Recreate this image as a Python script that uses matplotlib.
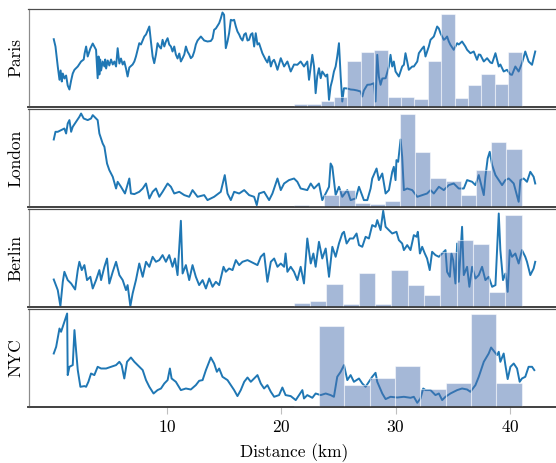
import numpy as np
import matplotlib
matplotlib.use("Agg")
from matplotlib import pyplot as plt

plt.rcParams['font.family'] = 'serif'
plt.rcParams['font.serif'] = ['cmr10']
plt.rcParams['mathtext.fontset'] = 'cm'
plt.rcParams['axes.formatter.use_mathtext'] = True

cities = ['Paris', 'London', 'Berlin', 'NYC']

# line series: distance (km) and relative value
paris_km = [0.10, 0.25, 0.45, 0.60, 0.70, 0.80, 0.89, 1.03, 1.18, 1.32, 1.47, 1.62, 1.76, 1.91, 2.20, 2.49, 2.72,
            2.80, 2.93, 3.07, 3.30, 3.51, 3.65, 3.80, 3.94, 4.02, 4.09, 4.16, 4.24, 4.38, 4.53, 4.60, 4.68, 4.82,
            4.96, 5.11, 5.26, 5.40, 5.55, 5.69, 5.84, 5.98, 6.13, 6.27, 6.42, 6.56, 6.71, 7.00, 7.15, 7.29, 7.58,
            7.73, 8.02, 8.17, 8.31, 8.46, 8.60, 8.75, 8.89, 9.04, 9.18, 9.33, 9.48, 9.62, 9.77, 9.91, 10.06, 10.20,
            10.35, 10.49, 10.64, 10.78, 10.93, 11.08, 11.22, 11.37, 11.52, 11.66, 11.80, 11.95, 12.09, 12.24,
            12.39, 12.53, 12.68, 12.82, 12.97, 13.12, 13.26, 13.55, 13.84, 13.99, 14.13, 14.28, 14.57, 14.71,
            14.86, 15.00, 15.15, 15.30, 15.44, 15.59, 15.74, 15.88, 16.03, 16.17, 16.32, 16.46, 16.61, 16.76,
            16.90, 17.05, 17.19, 17.34, 17.48, 17.63, 17.77, 17.92, 18.06, 18.21, 18.35, 18.50, 18.64, 18.79,
            18.94, 19.09, 19.23, 19.37, 19.50, 19.67, 19.96, 20.25, 20.54, 20.83, 21.12, 21.41, 21.70, 21.99,
            22.28, 22.43, 22.72, 22.87, 23.01, 23.15, 23.30, 23.45, 23.59, 23.89, 24.03, 24.18, 24.32, 24.47,
            24.61, 24.76, 24.90, 25.05, 25.20, 25.34, 25.49, 25.78, 26.07, 26.36, 26.65, 26.94, 27.09, 27.23,
            27.53, 27.82, 28.11, 28.25, 28.40, 28.54, 28.69, 28.84, 29.13, 29.42, 29.56, 29.71, 29.85, 30.00,
            30.29, 30.58, 30.73, 30.87, 31.02, 31.16, 31.46, 31.60, 31.90, 32.04, 32.33, 32.48, 32.62, 32.76,
            32.91, 33.06, 33.35, 33.64, 33.79, 33.93, 34.08, 34.22, 34.37, 34.51, 34.66, 34.80, 35.09, 35.24,
            35.39, 35.53, 35.82, 36.11, 36.26, 36.55, 36.84, 37.13, 37.28, 37.42, 37.72, 38.01, 38.30, 38.45,
            38.74, 39.03, 39.17, 39.46, 39.75, 40.05, 40.19, 40.48, 40.77, 41.06, 41.35, 41.64, 41.94, 42.22]
paris_val = [67.3, 60, 40, 26.7, 36, 25, 33, 28, 31, 21, 17, 26, 33, 36.7, 40, 45, 47,
             53, 60, 50, 58, 63, 60, 56.7, 28.3, 50, 32, 47, 36, 45, 40, 47, 38, 46,
             41, 47, 42, 45, 40, 58.3, 43, 48, 42, 45, 38, 30, 39, 42, 45, 50, 63.3,
             62, 70, 72, 76, 80, 65, 50, 43.3, 52, 63.3, 60, 58, 66.7, 60, 65, 68.3, 62,
             60, 55, 60, 52, 48, 53, 45, 48.3, 52, 60, 55, 52, 48.3, 50,
             55, 62, 66, 68, 70, 68, 66, 65, 65.5, 68, 76.7, 78, 83.3, 88,
             94, 91.7, 58.3, 65, 73.3, 86.7, 86, 86.7, 80, 75, 72, 68.3, 66, 72,
             73.3, 66, 66.7, 72, 73.3, 60, 73.3, 62, 63.3, 58, 53.3, 50, 46.7, 44,
             50, 40, 45, 46.7, 43, 36.7, 48.3, 40, 45, 35, 42, 41.7, 45, 40,
             45, 26.7, 51.7, 40, 13.3, 30, 38.3, 28.3, 35, 30, 32, 6.7, 20, 26.7,
             35, 40, 50, 63.3, 30, 5, 18.3, 18, 17, 16.7, 16, 15, 10, 16,
             21.7, 22, 23.3, 5, 51.7, 30, 21.7, 28, 28.3, 40, 51.7, 40, 45, 35,
             30, 40, 41.7, 53.3, 45, 36.7, 40, 40, 45, 53.3, 58, 60, 50, 55,
             60, 66.7, 70, 80, 78, 73.3, 70, 66.7, 68, 70, 65, 61.7, 56.7, 60,
             63.3, 62, 65, 60, 56.7, 53.3, 55, 46.7, 52, 51.7, 45, 48.3, 44, 43.3,
             53.3, 40, 42, 35, 36.7, 32, 31.7, 40, 35, 43.3, 55, 45, 41.7, 55]

london_km = [0.10, 0.25, 0.31, 0.45, 0.74, 1.03, 1.18, 1.32, 1.47, 1.62, 1.76, 2.05, 2.34, 2.49, 2.72, 3.07,
             3.36, 3.51, 3.80, 3.94, 4.09, 4.38, 4.53, 4.76, 4.96, 5.26, 5.55, 5.69, 5.98, 6.33, 6.71, 6.85,
             7.15, 7.58, 7.88, 8.17, 8.46, 8.75, 9.04, 9.33, 9.62, 10.06, 10.35, 10.64, 11.08, 11.52, 11.95,
             12.24, 12.68, 13.26, 13.55, 14.13, 14.71, 15.06, 15.30, 15.59, 15.88, 16.32, 16.76, 17.19, 17.63,
             17.86, 18.06, 18.50, 18.94, 19.23, 19.67, 19.96, 20.25, 20.68, 21.12, 21.41, 21.70, 22.28, 22.58,
             22.87, 23.30, 23.59, 23.89, 24.18, 24.32, 24.47, 24.76, 25.05, 25.34, 25.78, 26.07, 26.51, 26.80,
             27.23, 27.53, 27.82, 27.96, 28.34, 28.54, 28.84, 29.13, 29.42, 29.71, 29.85, 30.00, 30.08, 30.23,
             30.44, 30.58, 30.73, 31.02, 31.46, 31.90, 32.33, 32.76, 33.06, 33.35, 33.79, 34.22, 34.66, 35.09,
             35.53, 35.97, 36.26, 36.70, 36.99, 37.28, 37.72, 37.86, 38.06, 38.24, 38.45, 38.74, 39.03, 39.32,
             39.61, 39.90, 40.05, 40.34, 40.77, 40.92, 41.21, 41.50, 41.79, 42.08, 42.22]
london_val = [67.3, 75, 75, 75, 76.7, 78.3, 73.3, 83.3, 86.7, 75, 80, 85, 90, 93.3, 88.3, 86.7,
              88.3, 91.7, 88.3, 86.7, 73.3, 63.3, 60, 43.3, 36.7, 30, 18.3, 25, 20, 13.3, 28.3, 13.3,
              12.7, 15, 18.3, 23.3, 8.3, 15, 18.3, 10, 15, 23.3, 20, 13.3, 15, 11.7, 10,
              16.7, 10, 11.7, 6.7, 10, 15, 31.7, 13.3, 6.7, 15, 13.3, 16.7, 11.7, 10,
              1.7, 13.3, 15, 6.7, 13.3, 28.3, 16.7, 23.3, 26.7, 28.3, 25, 18.3, 16.7, 23.3,
              18.3, 23.3, 6.7, 13.3, 20, 43.3, 40, 11.7, 20, 10, 16.7, 6.7, 8.3, 20,
              6.7, 6.7, 18.3, 28.3, 38.3, 26.7, 33.3, 13.3, 16.7, 35, 40, 26.7, 46.7, 45,
              67.3, 50, 16.7, 18.3, 16.7, 10, 11.7, 13.3, 16.7, 13.3, 20, 16.7, 21.7, 23.3,
              18.3, 18.3, 26.7, 25, 21.7, 31.7, 11.7, 30, 48.3, 55, 41.7, 31.7, 26.7, 21.7,
              26.7, 28.3, 26.7, 23.3, 5, 26.7, 28.3, 25, 35, 30, 23.3]

berlin_km = [0.10, 0.45, 0.68, 0.89, 1.03, 1.32, 1.62, 1.97, 2.20, 2.34, 2.55, 2.78, 3.01, 3.30, 3.51, 3.80,
             4.09, 4.24, 4.53, 4.76, 4.96, 5.26, 5.55, 5.84, 6.13, 6.42, 6.56, 6.80, 7.00, 7.29, 7.58, 7.88,
             8.17, 8.46, 8.75, 9.04, 9.33, 9.62, 9.91, 10.20, 10.49, 10.70, 10.93, 11.22, 11.37, 11.66, 11.95,
             12.24, 12.53, 12.82, 13.12, 13.41, 13.70, 13.99, 14.28, 14.57, 14.95, 15.15, 15.44, 15.74, 16.03,
             16.32, 16.61, 17.05, 17.34, 17.63, 17.92, 18.21, 18.50, 18.79, 19.09, 19.38, 19.67, 19.96, 20.25,
             20.38, 20.54, 20.83, 21.12, 21.41, 21.70, 21.99, 22.28, 22.58, 22.81, 23.01, 23.30, 23.59, 23.89,
             24.18, 24.47, 24.76, 25.05, 25.34, 25.49, 25.72, 26.01, 26.30, 26.59, 26.80, 27.09, 27.38, 27.67,
             27.96, 28.25, 28.40, 28.69, 28.92, 29.13, 29.42, 29.71, 30.08, 30.29, 30.58, 30.73, 31.02, 31.31,
             31.60, 31.84, 31.95, 32.13, 32.33, 32.56, 32.76, 32.99, 33.20, 33.49, 33.79, 34.08, 34.37, 34.51,
             34.75, 34.89, 35.04, 35.24, 35.39, 35.53, 35.82, 35.97, 36.26, 36.46, 36.70, 36.99, 37.28, 37.57,
             37.86, 38.15, 38.45, 38.74, 39.03, 39.17, 39.40, 39.61, 39.81, 39.99, 40.19, 40.48, 40.77, 41.06,
             41.35, 41.50, 41.79, 41.94, 42.08, 42.22]
berlin_val = [27.3, 16.7, 0.7, 25, 35, 26.7, 23.3, 17.3, 36.7, 45, 36.7, 41.7, 26.7, 30, 18.3, 26.7,
              36.7, 26.7, 40, 48.3, 23.3, 35, 45, 31.7, 26.7, 16.7, 21.7, 0.7, 13.3, 26.7, 43.3, 30,
              45, 40, 50, 45, 46.7, 51.7, 45, 51.7, 40, 48.3, 31.7, 86, 33.3, 41.7, 26.7,
              41.7, 30, 21.7, 26.7, 18.3, 28.3, 20, 25, 21.7, 40, 35, 38.3, 36.7, 46.7,
              41.7, 45, 46.7, 45, 43.3, 41.7, 50, 53.3, 25, 45, 48.3, 40, 43.3, 40,
              53.3, 35, 40, 35, 26.7, 40, 23.3, 68.3, 43.3, 53.3, 40, 65, 48.3, 58.3,
              30, 60, 50, 63.3, 73.3, 75, 63.3, 68.3, 68.3, 73.3, 61.7, 60, 70, 68.3,
              81.7, 80, 86.7, 76.7, 96, 80, 76.7, 73.3, 75, 66.7, 63.3, 56.7, 61.7, 56.7,
              71.7, 70, 75, 53.3, 60, 53.3, 48.3, 36.7, 55, 51.7, 50, 53.3, 56.7, 35,
              30, 53.3, 46.7, 23.3, 63.3, 25, 80, 31.7, 40, 20, 40, 28.3, 31.7, 40,
              26.7, 30, 20, 21.7, 93.3, 56.7, 26.7, 33.3, 15, 56.7, 50, 53.3, 43.3, 56.7,
              50, 45, 31.7, 35, 38.3, 45]

nyc_km = [0.10, 0.31, 0.60, 0.74, 1.03, 1.27, 1.32, 1.47, 1.76, 1.91, 2.05, 2.20, 2.43, 2.78, 2.93, 3.13,
          3.36, 3.65, 3.94, 4.24, 4.68, 5.11, 5.55, 5.84, 6.04, 6.27, 6.51, 6.85, 7.15, 7.44, 7.88, 8.17,
          8.46, 8.83, 9.18, 9.48, 9.77, 10.06, 10.26, 10.41, 10.78, 11.22, 11.66, 12.09, 12.53, 12.82, 13.12,
          13.41, 13.84, 14.13, 14.37, 14.57, 14.86, 15.30, 15.59, 15.88, 16.17, 16.46, 16.76, 17.05, 17.34,
          17.63, 17.92, 18.21, 18.50, 18.79, 19.09, 19.38, 19.81, 20.10, 20.38, 20.83, 21.27, 21.56, 21.85,
          21.99, 22.28, 22.72, 23.01, 23.45, 23.89, 24.32, 24.61, 24.90, 25.20, 25.49, 25.78, 26.07, 26.36,
          26.80, 27.09, 27.38, 27.67, 27.96, 28.25, 28.40, 28.84, 29.13, 29.56, 30.14, 30.73, 31.31, 31.60,
          31.90, 32.18, 32.42, 32.62, 33.06, 33.49, 33.79, 34.08, 34.37, 34.80, 35.39, 35.82, 36.26, 36.55,
          36.99, 37.28, 37.72, 38.15, 38.36, 38.65, 38.88, 39.03, 39.17, 39.46, 39.61, 39.81, 40.05, 40.34,
          40.63, 40.86, 41.06, 41.35, 41.64, 41.94, 42.14]
nyc_val = [53.3, 60, 78.3, 75, 85, 93.3, 31.7, 40, 41.7, 76.7, 56.7, 36.7, 20, 20.7, 20, 25,
           33.3, 31.7, 40, 38.3, 38.3, 40, 41.7, 45, 41.7, 28.3, 45, 49.3, 45, 41.7, 36.7, 26.7,
           20, 13.3, 16.7, 18.3, 23.3, 26.7, 38.3, 28.3, 25, 16.7, 18.3, 17.3, 21.7, 26, 26.7,
           36.7, 49.3, 43.3, 35, 38.3, 30, 26.7, 21.7, 16.7, 10.7, 16.7, 25, 29.3, 25,
           28.3, 31.7, 23.3, 18.3, 21.7, 15, 10, 11.7, 19.3, 11.7, 10.7, 6.7, 11.7, 16.7,
           8.3, 11.7, 9, 13.3, 11.7, 13.3, 11.7, 10, 30, 35, 41.7, 26.7, 31.7, 25,
           28.3, 23.3, 20, 25, 30, 34, 25, 13.3, 7.7, 10, 9.3, 10, 9, 10,
           4, 8.3, 18.3, 16.7, 16.7, 11.7, 13.3, 6.7, 10, 13.3, 16.7, 18.3, 17.3, 15,
           21.7, 30, 45, 53.3, 59.3, 55, 51.7, 55, 45, 53.3, 41.7, 27.7, 40, 43.3,
           38.3, 25, 28.3, 30, 40, 40, 36.7]

# histogram counts, common range 21.1 - 41.03 km
hist_start, hist_end = 21.1, 41.03
paris_counts = [2.3, 2.3, 5.7, 10, 45.7, 55, 56.7, 9.3, 10, 7.7, 45.7, 92.3, 8.3, 21.7, 32.7, 22.7, 55]
london_counts = [2.3, 1.3, 12.3, 17.3, 4, 3.3, 6, 92.3, 54.3, 28.3, 25.7, 11.7, 36.7, 65, 57.7]
berlin_counts = [3.7, 5.7, 22.7, 2.7, 34, 2.7, 36.7, 21.7, 11.7, 55, 67.3, 62.7, 15, 92.3]
nyc_counts = [1.3, 80.7, 21.7, 29, 40.7, 17.7, 24, 92.3, 24]

lines = [(paris_km, paris_val), (london_km, london_val), (berlin_km, berlin_val), (nyc_km, nyc_val)]
counts = [paris_counts, london_counts, berlin_counts, nyc_counts]

fig = plt.figure(figsize=(5.56, 4.63), dpi=100)
tops = [9, 109.3, 209.3, 309.3]
panel_h = 97.5
left = 28.5 / 556
width = (559 - 28.5) / 556

for i, city in enumerate(cities):
    bottom = 1 - (tops[i] + panel_h) / 463
    ax = fig.add_axes([left, bottom, width, panel_h / 463])
    km, val = lines[i]
    ax.plot(km, val, color='#1f77b4', linewidth=1.4)
    ax.set_xlim(-2.11, 44.3)
    ax.set_ylim(0, 97.5)
    ax.set_yticks([])
    ax.set_ylabel(city, fontsize=12.5)
    ax.yaxis.set_label_coords(-0.009, 0.5)

    ax2 = ax.twinx()
    c = counts[i]
    edges = np.linspace(hist_start, hist_end, len(c) + 1)
    ax2.hist(edges[:-1], bins=edges, weights=c, color='#4c72b0', alpha=0.5,
             edgecolor='white', linewidth=0.8)
    ax2.set_ylim(0, 97.5)
    ax2.set_yticks([])

    for a in (ax, ax2):
        a.spines['top'].set_color('0.3')
        a.spines['bottom'].set_color('0.25')
        a.spines['bottom'].set_linewidth(1.2)
        a.spines['left'].set_color('0.55')
        a.spines['right'].set_visible(False)

    ax.set_xticks([10, 20, 30, 40])
    ax.tick_params(axis='x', length=5, color='0.75', labelsize=12.5, pad=4)
    if i < 3:
        ax.tick_params(axis='x', length=0, labelbottom=False)
        ax2.tick_params(axis='x', length=0, labelbottom=False)
    else:
        ax.set_xlabel('Distance (km)', fontsize=12.5)
        ax.xaxis.set_label_coords(0.5, -0.37)

fig.savefig('out.png', dpi=100)
